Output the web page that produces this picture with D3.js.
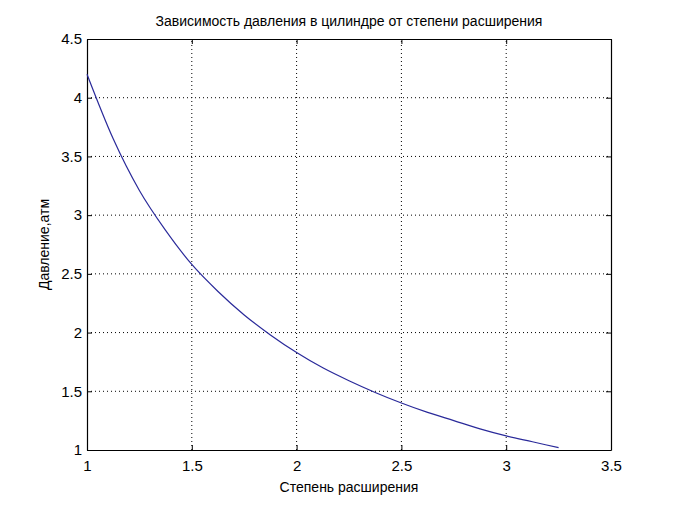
<!DOCTYPE html>
<html>
<head>
<meta charset="utf-8">
<script src="https://cdn.jsdelivr.net/npm/d3@7"></script>
<style>
  body { margin: 0; background: #fff; }
  svg text { font-family: "Liberation Sans", Arial, sans-serif; fill: #000; }
</style>
</head>
<body>
<div id="chart"></div>
<script>
    // степень расширения (x) and давление, атм (y)
    var expansion = [1, 1.125, 1.25, 1.375, 1.5, 1.625, 1.75, 1.875, 2, 2.125, 2.25,
                     2.375, 2.5, 2.625, 2.75, 2.875, 3, 3.125, 3.25];
    var pressure = [4.20, 3.65, 3.21, 2.87, 2.58, 2.35, 2.15, 1.98, 1.83, 1.70, 1.59,
                    1.49, 1.40, 1.32, 1.25, 1.18, 1.12, 1.07, 1.02];

    var xTicks = [1, 1.5, 2, 2.5, 3, 3.5];
    var yTicks = [1, 1.5, 2, 2.5, 3, 3.5, 4, 4.5];

    var titleText = "Зависимость давления в цилиндре от степени расширения";
    var xLabel = "Степень расширения";
    var yLabel = "Давление,атм";

    var w = 674, h = 505;
    var margin = {left: 87, right: 63, top: 39, bottom: 55};

    var dataset = [];
    for (var i = 0; i < expansion.length; i++) {
        dataset.push({"x": expansion[i], "y": pressure[i]});
    }

    var xScale = d3.scaleLinear()
        .domain([1, 3.5])
        .range([margin.left, w - margin.right]);

    var yScale = d3.scaleLinear()
        .domain([1, 4.5])
        .range([h - margin.bottom, margin.top]);

    var svg = d3.select("#chart").append("svg")
        .attr("width", w)
        .attr("height", h);

    // dotted grid
    var grid = svg.append("g");
    grid.selectAll("line.gx")
        .data(xTicks.slice(1, -1))
        .enter().append("line")
        .attr("x1", function(d) { return xScale(d); })
        .attr("x2", function(d) { return xScale(d); })
        .attr("y1", yScale(1))
        .attr("y2", yScale(4.5))
        .style("stroke", "#000")
        .style("stroke-dasharray", "1,3");
    grid.selectAll("line.gy")
        .data(yTicks.slice(1, -1))
        .enter().append("line")
        .attr("y1", function(d) { return yScale(d); })
        .attr("y2", function(d) { return yScale(d); })
        .attr("x1", xScale(1))
        .attr("x2", xScale(3.5))
        .style("stroke", "#000")
        .style("stroke-dasharray", "1,3");

    // axes, ticks pointing inward, mirrored on top/right
    var fmt = function(d) { return d3.format("")(d); };
    var xAxis = svg.append("g")
        .attr("transform", "translate(0," + yScale(1) + ")")
        .call(d3.axisBottom(xScale).tickValues(xTicks).tickSizeInner(-5).tickSizeOuter(0).tickPadding(10).tickFormat(fmt));
    var xAxisTop = svg.append("g")
        .attr("transform", "translate(0," + yScale(4.5) + ")")
        .call(d3.axisTop(xScale).tickValues(xTicks).tickSizeInner(-5).tickSizeOuter(0).tickFormat(""));
    var yAxis = svg.append("g")
        .attr("transform", "translate(" + xScale(1) + ",0)")
        .call(d3.axisLeft(yScale).tickValues(yTicks).tickSizeInner(-5).tickSizeOuter(0).tickPadding(5).tickFormat(fmt));
    var yAxisRight = svg.append("g")
        .attr("transform", "translate(" + xScale(3.5) + ",0)")
        .call(d3.axisRight(yScale).tickValues(yTicks).tickSizeInner(-5).tickSizeOuter(0).tickFormat(""));

    [xAxis, xAxisTop, yAxis, yAxisRight].forEach(function(a) {
        a.select(".domain").style("stroke", "#000").style("stroke-width", 1.2);
        a.selectAll(".tick line").style("stroke", "#000");
        a.selectAll(".tick text").style("font-size", "15px").style("font-family", "'Liberation Sans', Arial, sans-serif");
    });

    // curve
    var line = d3.line()
        .x(function(d) { return xScale(d.x); })
        .y(function(d) { return yScale(d.y); })
        .curve(d3.curveMonotoneX);

    svg.append("path")
        .datum(dataset)
        .attr("d", line)
        .style("fill", "none")
        .style("stroke", "#2a2a9a")
        .style("stroke-width", 1.2);

    // texts
    svg.append("text")
        .attr("x", (xScale(1) + xScale(3.5)) / 2)
        .attr("y", 26)
        .attr("text-anchor", "middle")
        .style("font-size", "14px")
        .text(titleText);

    svg.append("text")
        .attr("x", (xScale(1) + xScale(3.5)) / 2)
        .attr("y", 492)
        .attr("text-anchor", "middle")
        .style("font-size", "14px")
        .text(xLabel);

    svg.append("text")
        .attr("transform", "translate(49," + (yScale(1) + yScale(4.5)) / 2 + ") rotate(-90)")
        .attr("text-anchor", "middle")
        .style("font-size", "14px")
        .text(yLabel);
</script>
</body>
</html>
